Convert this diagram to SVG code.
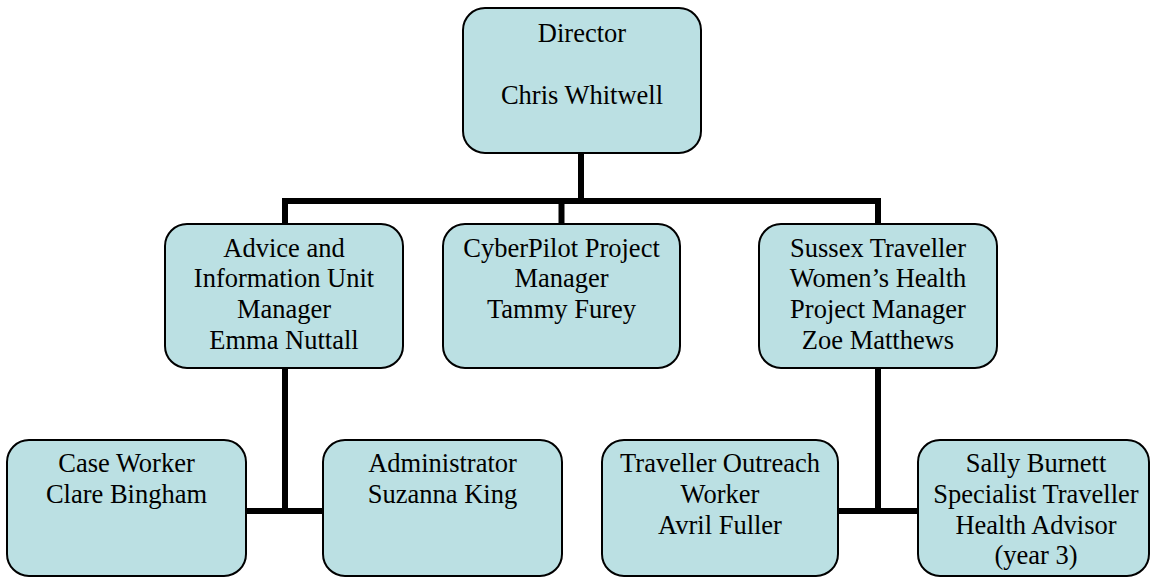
<svg xmlns="http://www.w3.org/2000/svg" width="1151" height="577" viewBox="0 0 1151 577">
<style>
.box{fill:#BBE0E3;stroke:#000;stroke-width:2}
.t{font-family:"Liberation Serif","Times New Roman",serif;font-size:26.5px;fill:#000;text-anchor:middle}
.c{fill:none;stroke:#000;stroke-width:6;stroke-linecap:butt;stroke-linejoin:miter}
</style>
<rect width="1151" height="577" fill="#fff"/>
<g id="connectors">
<path class="c" d="M581,153 V201"/>
<path class="c" d="M285,224 V201 H878 V224"/>
<path class="c" d="M561.5,201 V224"/>
<path class="c" d="M285,368 V511"/>
<path class="c" d="M246,511 H323"/>
<path class="c" d="M878,368 V511"/>
<path class="c" d="M838,511 H918"/>
</g>
<g id="director">
<rect class="box" x="463" y="8" width="238" height="145" rx="22"/>
<text class="t" x="582" y="42">Director</text>
<text class="t" x="582" y="104">Chris Whitwell</text>
</g>
<g id="advice">
<rect class="box" x="165" y="224" width="238" height="144" rx="22"/>
<text class="t" x="284" y="257">Advice and</text>
<text class="t" x="284" y="287">Information Unit</text>
<text class="t" x="284" y="318">Manager</text>
<text class="t" x="284" y="349">Emma Nuttall</text>
</g>
<g id="cyberpilot">
<rect class="box" x="443" y="224" width="237" height="144" rx="22"/>
<text class="t" x="561.5" y="257">CyberPilot Project</text>
<text class="t" x="561.5" y="287">Manager</text>
<text class="t" x="561.5" y="318">Tammy Furey</text>
</g>
<g id="sussex">
<rect class="box" x="759" y="224" width="238" height="144" rx="22"/>
<text class="t" x="878" y="257">Sussex Traveller</text>
<text class="t" x="878" y="287">Women’s Health</text>
<text class="t" x="878" y="318">Project Manager</text>
<text class="t" x="878" y="349">Zoe Matthews</text>
</g>
<g id="caseworker">
<rect class="box" x="7" y="440" width="239" height="136" rx="22"/>
<text class="t" x="126.5" y="472">Case Worker</text>
<text class="t" x="126.5" y="503">Clare Bingham</text>
</g>
<g id="administrator">
<rect class="box" x="323" y="440" width="239" height="136" rx="22"/>
<text class="t" x="442.5" y="472">Administrator</text>
<text class="t" x="442.5" y="503">Suzanna King</text>
</g>
<g id="outreach">
<rect class="box" x="602" y="440" width="236" height="136" rx="22"/>
<text class="t" x="720" y="472">Traveller Outreach</text>
<text class="t" x="720" y="503">Worker</text>
<text class="t" x="720" y="534">Avril Fuller</text>
</g>
<g id="sally">
<rect class="box" x="918" y="440" width="231" height="136" rx="22"/>
<text class="t" x="1036" y="472">Sally Burnett</text>
<text class="t" x="1036" y="503">Specialist Traveller</text>
<text class="t" x="1036" y="534">Health Advisor</text>
<text class="t" x="1036" y="564">(year 3)</text>
</g>
</svg>
